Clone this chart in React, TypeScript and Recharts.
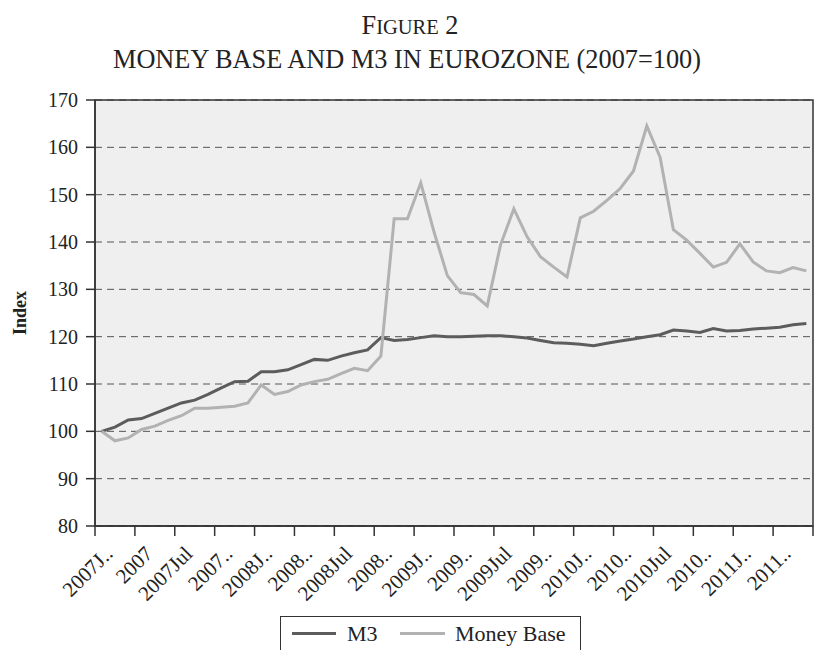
import React from 'react';
import { LineChart, Line, XAxis, YAxis, CartesianGrid, ReferenceArea } from 'recharts';

const FONT = '"Liberation Serif", "Times New Roman", serif';

const years = ['2007', '2008', '2009', '2010', '2011'];
const monthNames = ['Jan', 'Feb', 'Mar', 'Apr', 'May', 'Jun', 'Jul', 'Aug', 'Sep', 'Oct', 'Nov', 'Dec'];
const MONTH_COUNT = 54; // Jan 2007 .. Jun 2011
const months: string[] = [];
for (const y of years) for (const m of monthNames) if (months.length < MONTH_COUNT) months.push(y + m);

const tickLabels = [
  '2007J..', '2007', '2007Jul', '2007..',
  '2008J..', '2008..', '2008Jul', '2008..',
  '2009J..', '2009..', '2009Jul', '2009..',
  '2010J..', '2010..', '2010Jul', '2010..',
  '2011J..', '2011..',
];

const m3Values = [
  100.0, 100.9, 102.4, 102.7, 103.8, 104.9, 106.0, 106.6, 107.8, 109.2, 110.5, 110.6,
  112.6, 112.6, 113.0, 114.1, 115.2, 115.0, 115.9, 116.6, 117.2, 119.8, 119.2, 119.4,
  119.8, 120.2, 120.0, 120.0, 120.1, 120.2, 120.2, 120.0, 119.7, 119.2, 118.7, 118.6,
  118.4, 118.1, 118.6, 119.1, 119.5, 120.0, 120.4, 121.4, 121.2, 120.9, 121.7, 121.2,
  121.3, 121.6, 121.8, 122.0, 122.5, 122.8,
];

const moneyBaseValues = [
  100.0, 98.0, 98.6, 100.4, 101.1, 102.3, 103.3, 104.9, 104.9, 105.1, 105.3, 106.0,
  109.8, 107.8, 108.4, 109.8, 110.5, 111.0, 112.2, 113.3, 112.8, 115.9, 144.9, 144.9,
  152.5, 142.1, 132.9, 129.3, 128.9, 126.5, 139.4, 147.0, 141.1, 136.9, 134.7, 132.6,
  145.1, 146.5, 148.8, 151.3, 155.0, 164.5, 157.9, 142.6, 140.4, 137.6, 134.7, 135.7,
  139.6, 135.8, 133.9, 133.5, 134.6, 133.9,
];

const yTicks = [80, 90, 100, 110, 120, 130, 140, 150, 160, 170];
const seriesNames = ['M3', 'Money Base'];
const seriesColors = ['#5c5c5c', '#b2b2b2'];

const data = months.map((m, i) => ({ month: m, idx: i, m3: m3Values[i], mb: moneyBaseValues[i] }));

const GROUP = 3;
const boundaryTicks = tickLabels.map((_, k) => k * GROUP - 0.5).concat([tickLabels.length * GROUP - 0.5]);
const labelTicks = tickLabels.map((_, k) => k * GROUP + 1);
const xTicks = [...boundaryTicks, ...labelTicks].sort((a, b) => a - b);

const TICK_SIZE = 10;
const TICK_MARGIN = 0;

function XTick(props: any) {
  const { x, y, payload } = props;
  const v = payload.value;
  if (!Number.isInteger(v)) {
    return (
      <line x1={x} x2={x} y1={y - TICK_SIZE - TICK_MARGIN} y2={y - TICK_MARGIN} stroke="#333" strokeWidth={1.5} />
    );
  }
  const label = tickLabels[(v - 1) / GROUP];
  const tx = x - 1;
  const ty = y + 19;
  return (
    <text
      x={tx}
      y={ty}
      transform={`rotate(-45, ${tx}, ${ty})`}
      textAnchor="end"
      fontFamily={FONT}
      fontSize={21}
      fill="#222"
    >
      {label}
    </text>
  );
}

export default function App() {
  return (
    <div style={{ position: 'absolute', left: 0, top: 0, width: 814, height: 650, background: '#fff', overflow: 'hidden' }}>
      <LineChart width={814} height={650} data={data} margin={{ top: 100, right: 1, left: 0, bottom: 34 }}>
        <CartesianGrid
          vertical={false}
          stroke="#555"
          strokeDasharray="7 5"
          fill="#efefef"
          fillOpacity={1}
        />
        <XAxis
          dataKey="idx"
          type="number"
          domain={[-0.5, MONTH_COUNT - 0.5]}
          ticks={xTicks}
          interval={0}
          tickLine={false}
          tickSize={TICK_SIZE}
          tickMargin={TICK_MARGIN}
          tick={<XTick />}
          height={90}
          axisLine={{ stroke: '#333', strokeWidth: 1.5 }}
          allowDataOverflow
        />
        <YAxis
          domain={[80, 170]}
          ticks={yTicks}
          interval={0}
          width={95}
          tickSize={9}
          tickMargin={8}
          axisLine={{ stroke: '#333', strokeWidth: 1.5 }}
          tickLine={{ stroke: '#333', strokeWidth: 1.5 }}
          tick={{ fontSize: 20, fill: '#222', fontFamily: FONT }}
          allowDataOverflow
        />
        <ReferenceArea
          x1={-0.5}
          x2={MONTH_COUNT - 0.5}
          y1={80}
          y2={170}
          fill="none"
          fillOpacity={0}
          stroke="#333"
          strokeWidth={1.5}
        />
        <Line type="linear" dataKey="m3" name={seriesNames[0]} stroke={seriesColors[0]} strokeWidth={3} dot={false} isAnimationActive={false} />
        <Line type="linear" dataKey="mb" name={seriesNames[1]} stroke={seriesColors[1]} strokeWidth={3} dot={false} isAnimationActive={false} />
      </LineChart>

      <svg width={814} height={650} style={{ position: 'absolute', left: 0, top: 0, pointerEvents: 'none' }}>
        <text x={410} y={34} textAnchor="middle" fontFamily={FONT} fontSize={26.3} fill="#222">
          <tspan>F</tspan>
          <tspan fontSize={20.5}>IGURE</tspan>
          <tspan> 2</tspan>
        </text>
        <text x={407} y={68} textAnchor="middle" fontFamily={FONT} fontSize={26.3} fill="#222">
          MONEY BASE AND M3 IN EUROZONE (2007=100)
        </text>
        <text
          x={20}
          y={313}
          transform="rotate(-90, 20, 313)"
          textAnchor="middle"
          dominantBaseline="central"
          fontFamily={FONT}
          fontSize={18}
          fontWeight="bold"
          fill="#222"
        >
          Index
        </text>
      </svg>

      <div
        style={{
          position: 'absolute',
          left: 280,
          top: 616,
          width: 301,
          height: 44,
          border: '1.5px solid #333',
          boxSizing: 'border-box',
          background: '#fff',
          fontFamily: FONT,
          fontSize: 22,
          color: '#222',
        }}
      >
        <div style={{ position: 'absolute', left: 11, top: 15, width: 44, height: 3, background: seriesColors[0] }} />
        <div style={{ position: 'absolute', left: 66, top: 2, lineHeight: '30px' }}>{seriesNames[0]}</div>
        <div style={{ position: 'absolute', left: 119, top: 15, width: 45, height: 3, background: seriesColors[1] }} />
        <div style={{ position: 'absolute', left: 174, top: 2, lineHeight: '30px' }}>{seriesNames[1]}</div>
      </div>
    </div>
  );
}
